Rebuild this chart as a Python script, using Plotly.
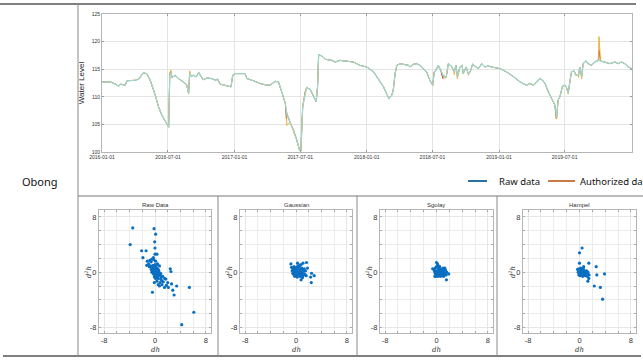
import plotly.graph_objects as go
import pandas as pd

W, H = 643, 361

# ---------------- data ----------------
row_label = "Obong"
legend_labels = ["Raw data", "Authorized data"]
panel_titles = ["Raw Data", "Gaussian", "Sgolay", "Hampel"]
level_ticks = [100, 105, 110, 115, 120, 125]
x_label = "<i>dh</i>"
y_label = "<i>d<sup>2</sup>h</i>"

level_dates = [
    "2016-01-01", "2016-01-24", "2016-02-07", "2016-02-16", "2016-02-21", "2016-03-05",
    "2016-03-10", "2016-04-02", "2016-04-11", "2016-04-25", "2016-05-04", "2016-05-13",
    "2016-05-27", "2016-06-05", "2016-06-14", "2016-06-24", "2016-07-03", "2016-07-06",
    "2016-07-09", "2016-07-12", "2016-07-21", "2016-07-30", "2016-08-13", "2016-08-22",
    "2016-08-27", "2016-08-30", "2016-09-03", "2016-09-10", "2016-09-17", "2016-09-24",
    "2016-09-28", "2016-10-06", "2016-10-17", "2016-10-30", "2016-11-09", "2016-11-15",
    "2016-11-22", "2016-12-11", "2016-12-22", "2016-12-27", "2017-01-03", "2017-01-30",
    "2017-02-04", "2017-02-22", "2017-03-13", "2017-03-31", "2017-04-09", "2017-04-23",
    "2017-05-02", "2017-05-11", "2017-05-21", "2017-05-25", "2017-06-03", "2017-06-13",
    "2017-06-22", "2017-06-29", "2017-07-03", "2017-07-08", "2017-07-15", "2017-07-19",
    "2017-07-29", "2017-08-07", "2017-08-14", "2017-08-18", "2017-08-21", "2017-08-30",
    "2017-09-08", "2017-09-26", "2017-10-06", "2017-10-19", "2017-11-07", "2017-11-25",
    "2017-12-13", "2018-01-01", "2018-01-20", "2018-02-02", "2018-02-16", "2018-02-25",
    "2018-03-03", "2018-03-11", "2018-03-15", "2018-03-20", "2018-03-25", "2018-04-03",
    "2018-04-12", "2018-04-26", "2018-04-30", "2018-05-10", "2018-05-19", "2018-05-28",
    "2018-06-06", "2018-06-15", "2018-06-24", "2018-07-02", "2018-07-06", "2018-07-11",
    "2018-07-17", "2018-07-24", "2018-07-31", "2018-08-08", "2018-08-14", "2018-08-23",
    "2018-08-30", "2018-09-04", "2018-09-08", "2018-09-15", "2018-09-21", "2018-09-24",
    "2018-10-02", "2018-10-08", "2018-10-13", "2018-10-20", "2018-10-27", "2018-11-05",
    "2018-11-14", "2018-11-23", "2018-12-02", "2018-12-11", "2019-01-04", "2019-01-22",
    "2019-02-09", "2019-02-28", "2019-03-18", "2019-03-27", "2019-04-06", "2019-04-15",
    "2019-04-24", "2019-05-01", "2019-05-08", "2019-05-17", "2019-05-26", "2019-06-04",
    "2019-06-09", "2019-06-13", "2019-06-18", "2019-06-25", "2019-07-02", "2019-07-06",
    "2019-07-11", "2019-07-16", "2019-07-20", "2019-07-27", "2019-08-01", "2019-08-08",
    "2019-08-12", "2019-08-17", "2019-08-21", "2019-08-29", "2019-09-04", "2019-09-13",
    "2019-09-22", "2019-10-02", "2019-10-08", "2019-10-20", "2019-11-03", "2019-11-17",
    "2019-11-26", "2019-12-05", "2019-12-14", "2019-12-24", "2020-01-02",
]
filtered_level = [
    112.7, 112.7, 112.3, 111.9, 112.3, 112.1,
    112.9, 113.0, 113.2, 114.4, 114.1, 113.0,
    110.3, 108.2, 106.7, 105.4, 104.5, 113.9,
    114.3, 113.5, 113.9, 113.3, 112.7, 112.1,
    110.6, 114.2, 113.7, 113.9, 113.6, 114.4,
    113.9, 113.1, 113.4, 113.3, 113.0, 113.2,
    112.3, 111.9, 111.8, 113.9, 114.2, 114.2,
    113.3, 112.9, 112.4, 112.1, 112.1, 112.8,
    112.7, 110.9, 108.8, 107.0, 105.4, 103.9,
    102.1, 100.4, 100.2, 108.2, 110.9, 111.7,
    111.3, 110.0, 109.1, 111.8, 117.6, 117.4,
    116.8, 116.6, 116.3, 116.6, 116.5, 116.3,
    115.7, 115.4, 114.5, 113.3, 111.8, 110.5,
    109.7, 110.3, 111.2, 114.2, 115.7, 116.0,
    115.9, 115.7, 115.4, 115.9, 116.0, 115.7,
    115.1, 114.5, 113.0, 112.1, 114.5, 114.8,
    115.7, 114.8, 113.9, 113.5, 116.0, 115.5,
    114.5, 115.7, 113.7, 115.4, 115.7, 114.2,
    115.4, 114.2, 114.5, 115.9, 115.5, 115.1,
    116.0, 115.4, 115.6, 115.4, 115.1, 114.5,
    113.7, 112.7, 112.1, 112.4, 112.1, 112.7,
    113.3, 113.0, 112.4, 110.9, 109.7, 108.5,
    106.4, 109.4, 110.0, 111.9, 112.1, 111.7,
    110.7, 113.0, 114.5, 114.7, 113.9, 113.9,
    115.4, 113.6, 116.0, 116.5, 116.0, 115.7,
    116.3, 116.6, 116.5, 116.3, 116.0, 116.3,
    116.0, 116.3, 116.0, 115.4, 115.1,
]
raw_spike_dates = ["2016-07-08", "2017-05-24", "2018-07-30", "2019-06-08", "2019-10-04"]
raw_spike_levels = [114.6, 106.0, 113.3, 106.0, 118.5]
auth_spike_dates = ["2016-07-09", "2016-08-30", "2017-05-25", "2018-07-31", "2018-08-30",
                    "2018-09-08", "2018-10-08", "2019-06-09", "2019-07-11", "2019-08-08",
                    "2019-08-17", "2019-10-04"]
auth_spike_levels = [114.8, 114.7, 104.8, 113.4, 114.0, 113.3, 113.9, 106.0, 110.5,
                     113.5, 113.3, 120.9]

raw_dh = [-3.5, -0.15, 0.1, -3.9, -0.05, 0.0, -2.1, -1.4, 0.0, 0.3, -1.9, -0.25, 2.4, 2.5,
          -0.4, 2.8, 3.0, 3.4, 5.4, 6.1, 4.2,
          -1.2, -0.8, -1.0, -0.6, -1.3, -0.5, -0.9, -0.2, 0.1, 0.4, 0.7, 0.5,
          -0.7, -0.5, -0.3, -0.1, 0.1, 0.3, -0.6, -0.4, -0.2, 0.0, 0.2, 0.4, 0.6, -0.5,
          -0.3, -0.1, 0.1, 0.3, 0.5, 0.7, -0.2, 0.0, 0.2, 0.4, 0.6, 0.8, -0.1, 0.1, 0.3,
          0.9, -0.4, -0.2, 0.0, 0.2, -0.6, 0.1, 0.3, -0.3, 0.0, 0.2,
          0.5, 0.8, 1.05, 1.3, 1.7, 2.0, 2.1, 1.5, 0.5, -0.1, 1.0, 1.2, 0.9, 1.5, 0.3,
          0.7, 1.1, 2.6, 1.8]
raw_d2h = [6.4, 6.3, 5.5, 4.0, 4.4, 3.5, 3.1, 3.1, 2.6, 2.6, 2.1, 2.1, 0.5, 0.1,
           -2.9, -2.6, -3.3, -2.0, -2.2, -5.8, -7.6,
           1.6, 1.7, 1.2, 1.5, 1.0, 1.9, 0.8, 1.8, 1.6, 1.2, 0.9, 0.4,
           0.9, 0.7, 1.0, 0.8, 0.9, 0.6, 0.4, 0.3, 0.5, 0.4, 0.3, 0.1, 0.2, 0.0,
           -0.1, 0.1, 0.0, -0.2, -0.3, -0.1, -0.3, -0.4, -0.5, -0.6, -0.5, -0.4, -0.7, -0.9, -0.8,
           -0.2, 0.6, 0.2, 0.7, 0.6, 0.7, 0.3, 0.2, 0.8, 1.1, 1.0,
           -0.9, -1.5, -1.2, -1.4, -1.0, -1.5, -2.2, -2.2, -1.8, -1.5, -0.7, -0.6, -1.0, -0.9, -1.3,
           -2.0, -1.8, -1.7, -1.9]

gauss_dh = [-0.8, 0.8, 1.1, 1.65, 0.25, 1.8, 2.45, 2.85, 2.3, 2.4, 1.0, 0.8,
            -0.7, -0.5, -0.3, -0.1, 0.1, 0.3, 0.5, 0.7, 0.9, 1.1, 1.3, 1.5,
            -0.6, -0.4, -0.2, 0.0, 0.2, 0.4, 0.6, 0.8, 1.0, 1.2, 1.4,
            -0.5, -0.3, -0.1, 0.1, 0.3, 0.5, 0.7, 0.9, 1.2, 1.6,
            -0.2, 0.0, 0.2, 0.4, 0.6, 0.8, 1.0, 0.3, 0.6, -0.4, 0.1]
gauss_d2h = [1.2, 1.1, 1.3, 1.4, 1.3, 0.6, -0.15, -0.5, -0.7, -1.5, -0.8, -1.1,
             0.7, 0.5, 0.8, 0.6, 0.7, 0.5, 0.8, 0.4, 0.6, 0.3, 0.5, 0.2,
             0.2, 0.0, 0.3, 0.1, 0.2, -0.1, 0.1, 0.0, -0.2, 0.1, -0.3,
             -0.2, -0.4, -0.1, -0.3, -0.2, -0.5, -0.3, -0.6, -0.4, -0.5,
             -0.6, -0.5, -0.7, -0.4, -0.6, -0.3, -0.7, 0.9, 1.0, 0.4, 0.3]

sgolay_dh = [0.0, 0.15, 1.0, 1.3, 1.9, 1.55, -0.25, -0.6,
             -0.4, -0.2, 0.0, 0.2, 0.4, 0.6, 0.8, 1.0, 1.2, 1.4,
             -0.3, -0.1, 0.1, 0.3, 0.5, 0.7, 0.9, 1.1, 1.3, 1.6,
             -0.2, 0.0, 0.2, 0.4, 0.6, 0.8, 1.0, 1.2, 1.5,
             0.0, 0.2, 0.4, 0.6, 0.8, 1.1, 0.3, 0.5, -0.1]
sgolay_d2h = [1.4, 1.2, 0.6, 0.6, -0.25, -1.1, -0.6, 0.5,
              0.4, 0.6, 0.8, 0.7, 0.5, 0.4, 0.3, 0.5, 0.2, 0.3,
              0.1, 0.2, 0.0, 0.3, 0.1, -0.1, 0.2, 0.0, -0.2, 0.0,
              -0.2, -0.3, -0.1, -0.4, -0.2, -0.3, -0.5, -0.3, -0.4,
              -0.5, -0.6, -0.4, -0.6, -0.5, -0.6, 0.9, 0.8, -0.6]

hampel_dh = [0.4, 0.0, 1.45, 2.6, 0.0, 0.65, 3.9, 2.7, 1.45, 1.3, 2.3, 3.25, 3.6,
             -0.3, -0.1, 0.1, 0.3, 0.5, 0.7, 0.9, 1.1, 1.3,
             -0.2, 0.0, 0.2, 0.4, 0.6, 0.8, 1.0, 1.2, 1.5,
             -0.1, 0.1, 0.3, 0.5, 0.7, 0.9, 1.2, 0.2, 0.4, 0.6]
hampel_d2h = [3.5, 2.8, 1.3, 0.8, 1.3, 0.8, -0.25, -0.4, -0.9, -1.3, -2.0, -2.2, -3.9,
              0.4, 0.5, 0.3, 0.4, 0.2, 0.3, 0.1, 0.2, 0.0,
              0.0, -0.1, 0.1, -0.2, 0.0, -0.1, -0.3, -0.2, -0.4,
              -0.4, -0.5, -0.3, -0.6, -0.4, -0.5, -0.6, 0.6, 0.5, 0.4]

# ---------------- helpers ----------------
def fx(px):
    return px / W


def fy(py):
    return 1 - py / H


base = pd.Series(filtered_level, index=pd.to_datetime(level_dates))


def with_spikes(dates, levels):
    s = pd.concat([base, pd.Series(levels, index=pd.to_datetime(dates))])
    return s.sort_index(kind="stable")


raw_series = with_spikes(raw_spike_dates, raw_spike_levels)
auth_series = with_spikes(auth_spike_dates, auth_spike_levels)

RAW_C = "#2f6f9f"
AUTH_C = "#c97a48"
SPIKE_C = "#eab040"
FILT_C = "#9ad8d0"
DOT_C = "#0a6fc2"
FONT = "Liberation Sans, Arial, sans-serif"

fig = go.Figure()

fig.add_trace(go.Scatter(x=raw_series.index, y=raw_series.values, mode="lines",
                         line=dict(color="#b0453a", width=1), xaxis="x", yaxis="y",
                         showlegend=False))
fig.add_trace(go.Scatter(x=auth_series.index, y=auth_series.values, mode="lines",
                         line=dict(color=SPIKE_C, width=1), xaxis="x", yaxis="y",
                         showlegend=False))
fig.add_trace(go.Scatter(x=base.index, y=base.values, mode="lines",
                         line=dict(color=FILT_C, width=1.2), xaxis="x", yaxis="y",
                         showlegend=False))

panel_dh = [raw_dh, gauss_dh, sgolay_dh, hampel_dh]
panel_d2h = [raw_d2h, gauss_d2h, sgolay_d2h, hampel_d2h]
panel_px = [(99, 211), (240, 352), (380, 493), (523, 636)]
for i in range(4):
    fig.add_trace(go.Scatter(x=panel_dh[i], y=panel_d2h[i], mode="markers",
                             marker=dict(color=DOT_C, size=3.2, symbol="circle",
                                         line=dict(width=0)),
                             xaxis=f"x{i+2}", yaxis=f"y{i+2}", showlegend=False))

layout = dict(
    width=W, height=H, margin=dict(l=0, r=0, t=0, b=0, pad=0, autoexpand=False),
    paper_bgcolor="white", plot_bgcolor="white", showlegend=False,
    font=dict(family=FONT, color="#222"),
    xaxis=dict(domain=[fx(102), fx(632)], anchor="y", type="date", automargin=False,
               range=["2016-01-01", "2020-01-03"], tick0="2016-01-01", dtick="M6",
               tickformat="%Y-%m-%d", tickfont=dict(size=5, color="#333"),
               showgrid=True, gridcolor="#e4e4e4", gridwidth=1,
               showline=True, linecolor="#b5b5b5", mirror="ticks",
               ticks="inside", ticklen=2, tickcolor="#999", zeroline=False),
    yaxis=dict(domain=[fy(152), fy(14)], anchor="x", range=[100, 125], automargin=False,
               tickvals=level_ticks, tickfont=dict(size=5, color="#333"),
               showgrid=True, gridcolor="#e4e4e4",
               showline=True, linecolor="#b5b5b5", mirror="ticks",
               ticks="inside", ticklen=2, tickcolor="#999", zeroline=False,
               title=dict(text="Water Level", font=dict(size=8, color="#222"), standoff=5)),
)

for i, (l, r) in enumerate(panel_px):
    n = i + 2
    layout[f"xaxis{n}"] = dict(
        domain=[fx(l), fx(r)], anchor=f"y{n}", range=[-8.8, 8.8], automargin=False,
        tickvals=[-8, 0, 8], ticktext=["-8", "0", "8"], tickfont=dict(size=7.5, color="#333"),
        showgrid=True, gridcolor="#e6e6e6",
        minor=dict(tick0=0, dtick=2, showgrid=True, gridcolor="#ececec",
                   ticks="inside", ticklen=2, tickcolor="#aaa"),
        showline=True, linecolor="#b5b5b5", mirror="ticks", ticks="inside",
        ticklen=2, tickcolor="#aaa", zeroline=False)
    layout[f"yaxis{n}"] = dict(
        domain=[fy(333), fy(210)], anchor=f"x{n}", range=[-8.8, 9.0], automargin=False,
        tickvals=[-8, 0, 8], ticktext=["-8", "0", "8"], tickfont=dict(size=7.5, color="#333"),
        showgrid=True, gridcolor="#e6e6e6",
        minor=dict(tick0=0, dtick=2, showgrid=True, gridcolor="#ececec",
                   ticks="inside", ticklen=2, tickcolor="#aaa"),
        showline=True, linecolor="#b5b5b5", mirror="ticks", ticks="inside",
        ticklen=2, tickcolor="#aaa", zeroline=False)

annotations = []
for i, (l, r) in enumerate(panel_px):
    annotations.append(dict(text=panel_titles[i], x=fx((l + r) / 2), y=fy(205),
                            xref="paper", yref="paper", showarrow=False,
                            font=dict(size=6, color="#333"), xanchor="center",
                            yanchor="middle"))
    annotations.append(dict(text=x_label, xref=f"x{i+2}", x=0, yref="paper", y=fy(350),
                            showarrow=False, xanchor="center", yanchor="middle",
                            font=dict(size=7, family="DejaVu Serif", color="#333")))
    annotations.append(dict(text=y_label, xref="paper", x=fx(l - 11), yref=f"y{i+2}", y=0,
                            showarrow=False, xanchor="center", yanchor="middle",
                            textangle=-90,
                            font=dict(size=7, family="DejaVu Serif", color="#333")))
annotations.append(dict(text=row_label, x=fx(40), y=fy(181), xref="paper", yref="paper",
                        showarrow=False, font=dict(size=11, color="#111", family="Noto Sans"),
                        xanchor="center", yanchor="middle"))
annotations.append(dict(text=legend_labels[0], x=fx(497), y=fy(181), xref="paper",
                        yref="paper", showarrow=False, xanchor="left", yanchor="middle",
                        font=dict(size=9.5, color="#111", family="Noto Sans")))
annotations.append(dict(text=legend_labels[1], x=fx(578), y=fy(181), xref="paper",
                        yref="paper", showarrow=False, xanchor="left", yanchor="middle",
                        font=dict(size=9.5, color="#111", family="Noto Sans")))
layout["annotations"] = annotations

shapes = [
    dict(type="line", x0=fx(0), x1=fx(636), y0=fy(4), y1=fy(4), line=dict(color="#555", width=1.5)),
    dict(type="line", x0=fx(3), x1=fx(641), y0=fy(356), y1=fy(356), line=dict(color="#555", width=1.5)),
    dict(type="line", x0=fx(78), x1=fx(78), y0=fy(4), y1=fy(356), line=dict(color="#8a8a8a", width=1)),
    dict(type="line", x0=fx(78), x1=fx(643), y0=fy(196), y1=fy(196), line=dict(color="#777", width=1)),
    dict(type="line", x0=fx(218), x1=fx(218), y0=fy(196), y1=fy(356), line=dict(color="#8a8a8a", width=1)),
    dict(type="line", x0=fx(357), x1=fx(357), y0=fy(196), y1=fy(356), line=dict(color="#8a8a8a", width=1)),
    dict(type="line", x0=fx(497), x1=fx(497), y0=fy(196), y1=fy(356), line=dict(color="#8a8a8a", width=1)),
    dict(type="line", x0=fx(468), x1=fx(487), y0=fy(181), y1=fy(181), line=dict(color=RAW_C, width=2)),
    dict(type="line", x0=fx(548), x1=fx(575), y0=fy(181), y1=fy(181), line=dict(color=AUTH_C, width=2)),
]
for s in shapes:
    s["xref"] = "paper"
    s["yref"] = "paper"
layout["shapes"] = shapes

fig.update_layout(**layout)
fig.write_html("out.html")
